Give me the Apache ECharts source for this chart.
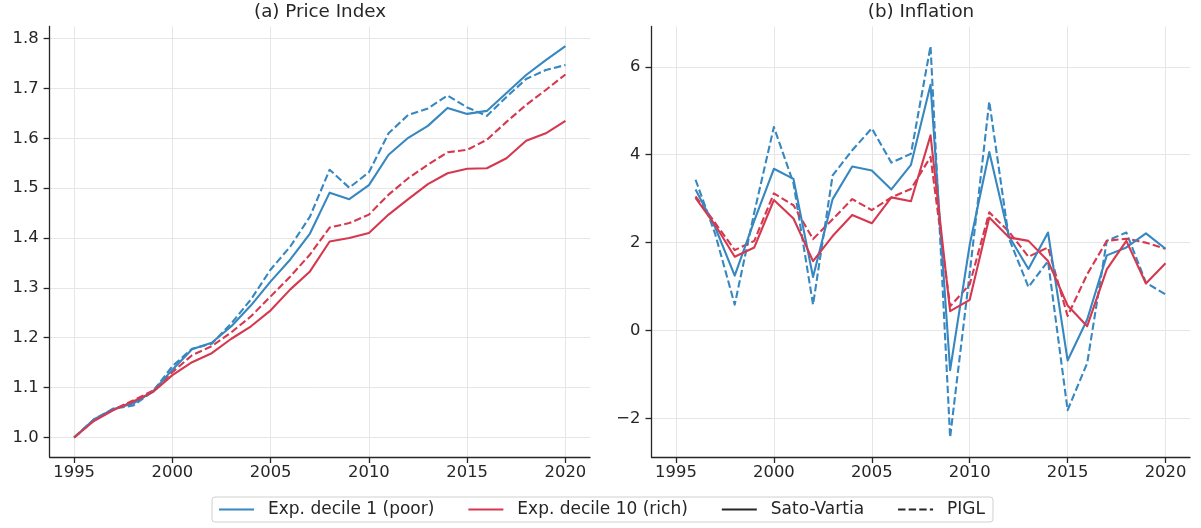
<!DOCTYPE html>
<html>
<head>
<meta charset="utf-8">
<script src="https://cdn.jsdelivr.net/npm/echarts@6/dist/echarts.min.js"></script>
<style>
html,body{margin:0;padding:0;background:#fff;}
#chart{width:1201px;height:528px;}
</style>
</head>
<body>
<div id="chart"></div>
<script>
// ---------- data ----------
const yearsPrice = [1995,1996,1997,1998,1999,2000,2001,2002,2003,2004,2005,2006,2007,2008,2009,2010,2011,2012,2013,2014,2015,2016,2017,2018,2019,2020];
const yearsInfl = [1996,1997,1998,1999,2000,2001,2002,2003,2004,2005,2006,2007,2008,2009,2010,2011,2012,2013,2014,2015,2016,2017,2018,2019,2020];

const priceD1SV   = [1.000,1.036,1.057,1.068,1.092,1.136,1.177,1.190,1.223,1.265,1.313,1.357,1.409,1.491,1.478,1.506,1.567,1.601,1.625,1.661,1.649,1.655,1.691,1.727,1.757,1.785];
const priceD1PIGL = [1.000,1.036,1.058,1.064,1.092,1.143,1.178,1.188,1.229,1.277,1.337,1.383,1.443,1.537,1.501,1.532,1.610,1.647,1.660,1.686,1.662,1.645,1.683,1.719,1.737,1.747];
const priceD10SV  = [1.000,1.033,1.055,1.072,1.091,1.125,1.151,1.169,1.198,1.223,1.255,1.297,1.333,1.393,1.400,1.410,1.447,1.478,1.508,1.530,1.539,1.540,1.560,1.595,1.610,1.635];
const priceD10PIGL= [1.000,1.034,1.056,1.074,1.094,1.131,1.165,1.183,1.211,1.243,1.283,1.323,1.367,1.421,1.430,1.447,1.487,1.520,1.547,1.572,1.577,1.597,1.633,1.667,1.697,1.728];

const inflD1SV    = [3.21,2.35,1.25,2.50,3.68,3.45,1.22,2.99,3.73,3.64,3.21,3.77,5.59,-0.90,1.95,4.06,2.15,1.40,2.23,-0.68,0.25,1.71,1.89,2.21,1.86];
const inflD1PIGL  = [3.43,2.20,0.59,2.69,4.63,3.35,0.59,3.53,4.10,4.60,3.82,4.02,6.47,-2.43,1.30,5.21,2.10,0.99,1.58,-1.81,-0.74,2.04,2.23,1.09,0.82];
const inflD10SV   = [3.02,2.40,1.68,1.89,2.97,2.55,1.58,2.15,2.63,2.44,3.03,2.94,4.44,0.44,0.70,2.57,2.12,2.04,1.58,0.57,0.10,1.39,2.04,1.07,1.53];
const inflD10PIGL = [3.05,2.45,1.83,2.04,3.12,2.85,2.08,2.53,2.99,2.74,3.03,3.22,3.95,0.55,1.05,2.69,2.25,1.68,1.89,0.33,1.28,2.04,2.09,2.00,1.86];

const xTicks = [1995,2000,2005,2010,2015,2020];
const yTicksPrice = [1.0,1.1,1.2,1.3,1.4,1.5,1.6,1.7,1.8];
const yTicksInfl = [-2,0,2,4,6];

const titles = ['(a) Price Index','(b) Inflation'];
const legendNames = ['Exp. decile 1 (poor)','Exp. decile 10 (rich)','Sato-Vartia','PIGL'];

// ---------- style ----------
const BLUE = '#3787c0';
const RED = '#d5394f';
const DARK = '#262626';
const FONT = 'DejaVu Sans';
const DASH = [7.4, 3.2];
const TICKFS = 16.4;

function zip(xs, ys){ return xs.map((x,i)=>[x, ys[i]]); }

function xAxisDef(gi){
  return {
    type:'value', gridIndex:gi, min:1993.75, max:2021.25,
    axisLine:{show:true, onZero:false, lineStyle:{color:DARK, width:1.3}},
    axisTick:{show:true, customValues:xTicks, length:6, lineStyle:{color:DARK, width:1.3}},
    axisLabel:{customValues:xTicks, color:DARK, fontFamily:FONT, fontSize:TICKFS, margin:8, formatter:v=>String(v)},
    splitLine:{show:true, lineStyle:{color:'#e6e6e6', width:1}}
  };
}
function yAxisDef(gi, min, max, ticks, fmt){
  return {
    type:'value', gridIndex:gi, min:min, max:max,
    axisLine:{show:true, onZero:false, lineStyle:{color:DARK, width:1.3}},
    axisTick:{show:true, customValues:ticks, length:6, lineStyle:{color:DARK, width:1.3}},
    axisLabel:{customValues:ticks, color:DARK, fontFamily:FONT, fontSize:TICKFS, margin:11, formatter:fmt},
    splitLine:{show:true, lineStyle:{color:'#e6e6e6', width:1}}
  };
}
function line(name, gi, data, color, dashed, z){
  return {
    name:name, type:'line', xAxisIndex:gi, yAxisIndex:gi, data:data,
    symbol:'none', smooth:false, silent:true, animation:false, z:z||2,
    lineStyle:{color:color, width:2.1, type: dashed ? DASH : 'solid', cap:'butt', join:'round'},
    itemStyle:{color:color}
  };
}

const chart = echarts.init(document.getElementById('chart'), null, {renderer:'canvas'});
chart.setOption({
  animation:false,
  backgroundColor:'#ffffff',
  textStyle:{fontFamily:FONT},
  grid:[
    {left:49.6, right:611, top:26.5, bottom:71, containLabel:false},
    {left:651.5, right:11, top:26.5, bottom:71, containLabel:false}
  ],
  xAxis:[xAxisDef(0), xAxisDef(1)],
  yAxis:[
    yAxisDef(0, 0.9608, 1.8243, yTicksPrice, v=>v.toFixed(1)),
    yAxisDef(1, -2.876, 6.916, yTicksInfl, v=>(v<0?'\u2212'+Math.abs(v):String(v)))
  ],
  legend:{
    data:legendNames,
    left:212, top:497,
    itemWidth:35, itemHeight:14, itemGap:33,
    padding:[4,8,4,6],
    borderColor:'#d0d0d0', borderWidth:1, borderRadius:3,
    backgroundColor:'#ffffff',
    selectedMode:false,
    itemStyle:{opacity:0},
    textStyle:{color:DARK, fontFamily:FONT, fontSize:17, padding:[0,0,0,9]}
  },
  graphic:[
    {type:'text', x:320, y:12, style:{text:titles[0], align:'center', verticalAlign:'middle', fill:DARK, font:'18.3px "DejaVu Sans"'}},
    {type:'text', x:921, y:12, style:{text:titles[1], align:'center', verticalAlign:'middle', fill:DARK, font:'18.3px "DejaVu Sans"'}}
  ],
  series:[
    line(legendNames[0], 0, zip(yearsPrice, priceD1SV), BLUE, false, 3),
    line(legendNames[1], 0, zip(yearsPrice, priceD10SV), RED, false, 3),
    line('d1-pigl-price', 0, zip(yearsPrice, priceD1PIGL), BLUE, true),
    line('d10-pigl-price', 0, zip(yearsPrice, priceD10PIGL), RED, true),
    line('d1-sv-infl', 1, zip(yearsInfl, inflD1SV), BLUE, false, 3),
    line('d10-sv-infl', 1, zip(yearsInfl, inflD10SV), RED, false, 3),
    line('d1-pigl-infl', 1, zip(yearsInfl, inflD1PIGL), BLUE, true),
    line('d10-pigl-infl', 1, zip(yearsInfl, inflD10PIGL), RED, true),
    line(legendNames[2], 0, [], DARK, false),
    line(legendNames[3], 0, [], DARK, true)
  ]
});
</script>
</body>
</html>
